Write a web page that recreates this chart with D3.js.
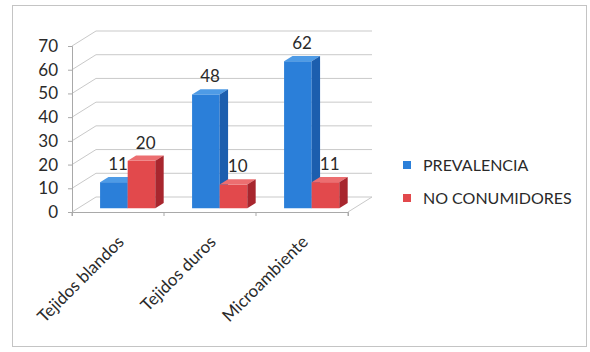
<!DOCTYPE html>
<html>
<head>
<meta charset="utf-8">
<script src="https://cdn.jsdelivr.net/npm/d3@7"></script>
<style>
  body { margin: 0; background: #fff; }
  svg { display: block; font-family: Lato, "Open Sans", sans-serif; }
</style>
</head>
<body>
<div id="chart"></div>
<script>
// ===== Data =====
const categories = ['Tejidos blandos', 'Tejidos duros', 'Microambiente'];
const seriesNames = ['PREVALENCIA', 'NO CONUMIDORES'];
const prevalencia = [11, 48, 62];
const noConsumidores = [20, 10, 11];
const yTicks = [0, 10, 20, 30, 40, 50, 60, 70];

const W = 590, H = 352;
const depth = { x: 24, y: -15 };   // floor depth offset (front -> back wall)
const f1 = 0.25, f2 = 0.6;          // bar front/back plane as fraction of depth

const colors = {
  'PREVALENCIA': { front: '#2b7fd9', top: '#4e9be6', side: '#1c5eae' },
  'NO CONUMIDORES': { front: '#e2494c', top: '#ec6e70', side: '#a8262e' }
};

const svg = d3.select('#chart').append('svg')
  .attr('width', W).attr('height', H);

// outer frame
svg.append('rect')
  .attr('x', 12.5).attr('y', 5.5).attr('width', 574).attr('height', 341)
  .attr('fill', 'none').attr('stroke', '#c4c4c4');

const x = d3.scaleBand().domain(categories).range([72, 348]);
const y = d3.scaleLinear().domain([0, 70]).range([212, 46]);

const grid = '#c9c9c9';

// back wall gridlines
svg.append('g').selectAll('line').data(yTicks).enter().append('line')
  .attr('x1', 72 + depth.x).attr('x2', 348 + depth.x)
  .attr('y1', d => y(d) + depth.y).attr('y2', d => y(d) + depth.y)
  .attr('stroke', grid);

// left wall slanted lines
svg.append('g').selectAll('line').data(yTicks).enter().append('line')
  .attr('x1', 72).attr('x2', 72 + depth.x)
  .attr('y1', d => y(d)).attr('y2', d => y(d) + depth.y)
  .attr('stroke', grid);

// floor right edge
svg.append('line')
  .attr('x1', 348).attr('y1', y(0)).attr('x2', 348 + depth.x).attr('y2', y(0) + depth.y)
  .attr('stroke', grid);

// y axis
svg.append('g')
  .attr('transform', 'translate(72,0)')
  .call(d3.axisLeft(y).tickValues(yTicks).tickSize(4).tickPadding(10))
  .call(g => g.selectAll('.domain').attr('stroke', '#a9a9a9'))
  .call(g => g.selectAll('.tick line').attr('stroke', '#a9a9a9'))
  .call(g => g.selectAll('text').attr('font-size', 17).attr('fill', '#2a2a2a')
    .attr('font-family', 'Lato, sans-serif'));

// x axis (front floor edge)
svg.append('g')
  .attr('transform', `translate(0,${y(0)})`)
  .call(d3.axisBottom(x).tickSize(4).tickFormat(''))
  .call(g => g.selectAll('.domain').attr('stroke', '#a9a9a9'))
  .call(g => g.selectAll('.tick line').attr('stroke', '#a9a9a9')
    .attr('transform', `translate(${-x.bandwidth() / 2},0)`));
svg.append('line')
  .attr('x1', 348).attr('x2', 348).attr('y1', y(0)).attr('y2', y(0) + 4)
  .attr('stroke', '#a9a9a9');

// category labels
svg.append('g').selectAll('text').data(categories).enter().append('text')
  .attr('text-anchor', 'end')
  .attr('transform', d => `translate(${x(d) + x.bandwidth() / 2 + 7},243) rotate(-45)`)
  .attr('font-size', 17).attr('fill', '#2a2a2a')
  .text(d => d);

// bars
const bars = [];
categories.forEach((c, i) => {
  bars.push({ cat: c, series: seriesNames[0], value: prevalencia[i], k: 0 });
  bars.push({ cat: c, series: seriesNames[1], value: noConsumidores[i], k: 1 });
});

const barW = x.bandwidth() * 0.3;
const groupOff = x.bandwidth() * 0.24;
const ddx = depth.x * (f2 - f1), ddy = depth.y * (f2 - f1);

const barG = svg.append('g').selectAll('g').data(bars).enter().append('g');

function geom(d) {
  const x0 = x(d.cat) + groupOff + d.k * barW + depth.x * f1;
  const x1 = x0 + barW;
  const yb = y(0) + depth.y * f1;
  const yt = y(d.value) + depth.y * f1;
  return { x0, x1, yb, yt };
}

barG.append('rect')
  .attr('x', d => geom(d).x0)
  .attr('y', d => geom(d).yt)
  .attr('width', barW)
  .attr('height', d => geom(d).yb - geom(d).yt)
  .attr('fill', d => colors[d.series].front);

barG.append('polygon')
  .attr('points', d => {
    const g = geom(d);
    return [[g.x0, g.yt], [g.x1, g.yt], [g.x1 + ddx, g.yt + ddy], [g.x0 + ddx, g.yt + ddy]].join(' ');
  })
  .attr('fill', d => colors[d.series].top);

barG.append('polygon')
  .attr('points', d => {
    const g = geom(d);
    return [[g.x1, g.yt], [g.x1 + ddx, g.yt + ddy], [g.x1 + ddx, g.yb + ddy], [g.x1, g.yb]].join(' ');
  })
  .attr('fill', d => colors[d.series].side);

// value labels
barG.append('text')
  .attr('x', d => geom(d).x0 + barW / 2 + ddx / 2)
  .attr('y', d => geom(d).yt + ddy - 7)
  .attr('text-anchor', 'middle')
  .attr('font-size', 17).attr('fill', '#2a2a2a')
  .text(d => d.value);

// legend
const legend = svg.append('g').selectAll('g').data(seriesNames).enter().append('g')
  .attr('transform', (d, i) => `translate(403,${165 + i * 33})`);
legend.append('rect')
  .attr('x', 0).attr('y', -4).attr('width', 8).attr('height', 8)
  .attr('fill', d => colors[d].front);
legend.append('text')
  .attr('x', 20).attr('y', 0).attr('dy', '0.35em')
  .attr('font-size', 16).attr('fill', '#2a2a2a')
  .text(d => d);
</script>
</body>
</html>
